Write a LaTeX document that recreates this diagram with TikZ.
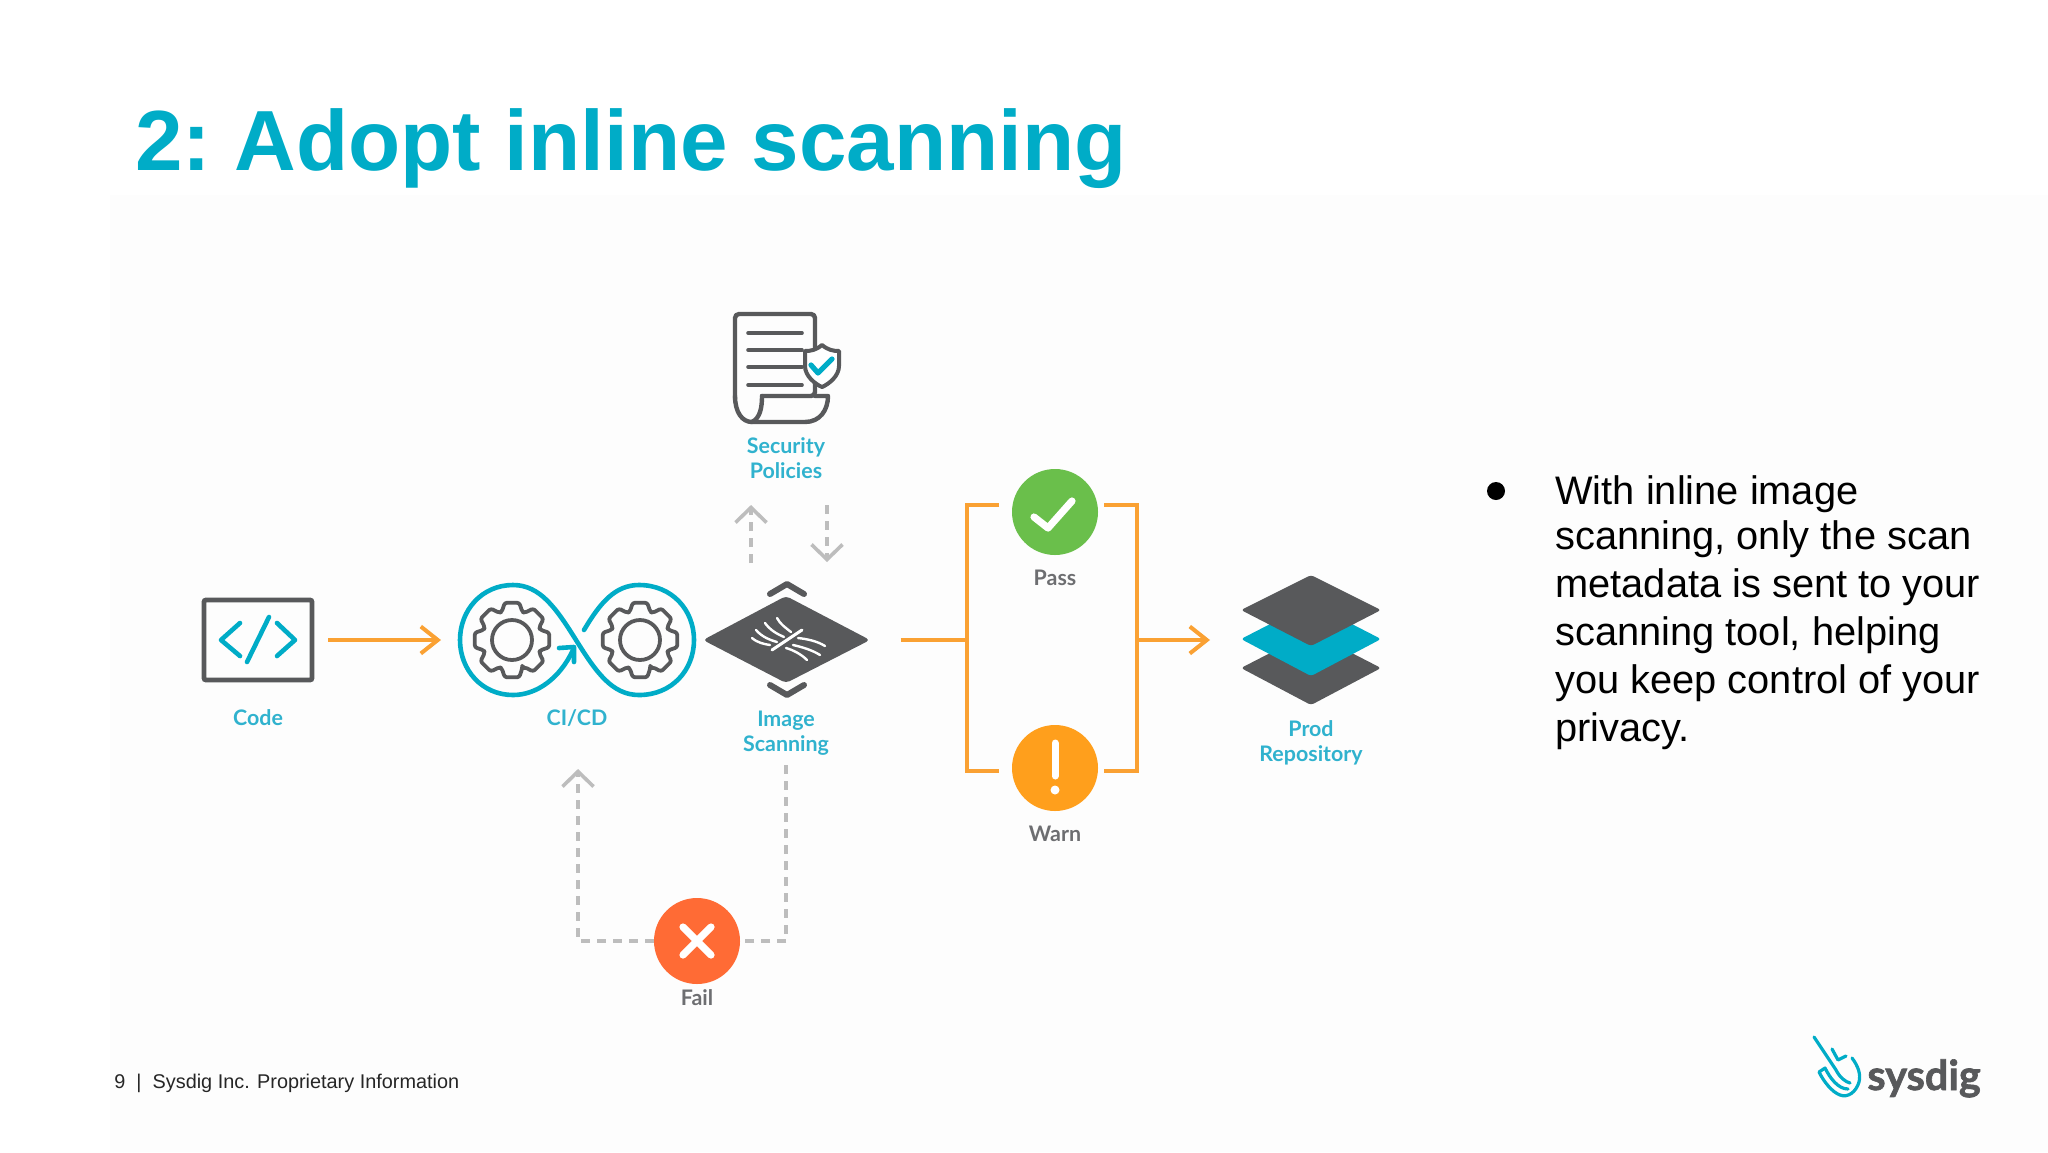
\documentclass[tikz,border=0pt]{standalone}
\usepackage{fontspec}
\setmainfont{Liberation Sans}
\newfontfamily\lato{Lato}
\newfontfamily\latoheavy[BoldFeatures={FakeBold=1.6}]{Lato}
\usetikzlibrary{arrows.meta,shapes.geometric,calc}
\definecolor{teal}{HTML}{00ACC7}
\definecolor{lblteal}{HTML}{30B2CE}
\definecolor{dark}{HTML}{58595B}
\definecolor{lblgray}{HTML}{6D6E71}
\definecolor{orng}{HTML}{FAA133}
\definecolor{dash}{HTML}{BDBDBD}
\definecolor{okgreen}{HTML}{6ABF4B}
\definecolor{warnorange}{HTML}{FF9F1C}
\definecolor{failred}{HTML}{FF6B35}
\definecolor{panel}{HTML}{FDFDFD}
\tikzset{
  x=0.5pt,y=-0.5pt,
  tlabel/.style={font=\lato\bfseries\fontsize{10.7}{12.5}\selectfont,text=lblteal,align=center,inner sep=0pt},
  glabel/.style={font=\lato\bfseries\fontsize{10.7}{12.5}\selectfont,text=lblgray,align=center,inner sep=0pt},
  flow/.style={draw=orng,line width=2pt},
  flowarrow/.style={flow,-{Straight Barb[length=8.5pt,width=13.5pt,line width=2pt]}},
  dashline/.style={draw=dash,line width=1.8pt,dash pattern=on 4.5pt off 3.5pt},
  dasharrow/.style={dashline,-{Straight Barb[length=7.5pt,width=15.5pt,line width=1.8pt]}},
  status/.style={circle,minimum size=43pt,inner sep=0pt},
  whitemark/.style={draw=white,line width=3.6pt,line cap=round,line join=round},
  icon/.style={draw=dark,line width=2.2pt,line join=round,line cap=round},
  tealicon/.style={draw=teal,line width=2.3pt,line cap=round,line join=round},
  anchorbox/.style={inner sep=0pt,outer sep=0pt},
}
\newcommand{\geariconat}[2]{%
  \begin{scope}[shift={(#1,#2)}]
    \draw[draw=dark,line width=1.9pt,line join=round,rounded corners=1.2pt]
      (70:30) \foreach \a in {90,135,...,405} { -- (\a-20:30) -- (\a-11:38) -- (\a+11:38) -- (\a+20:30) } -- cycle;
    \draw[draw=dark,line width=1.9pt] (0,0) circle[x radius=20,y radius=20];
  \end{scope}}
\begin{document}
\begin{tikzpicture}
\useasboundingbox (0,0) rectangle (2048,1152);
\fill[white] (0,0) rectangle (2048,1152);
\fill[panel] (110,195) rectangle (2048,1152);

% title
\node[anchor=base west,inner sep=0pt,text=teal,font=\bfseries\fontsize{42.7}{50}\selectfont] (title) at (135,170) {2:\kern-4.2pt{} Adopt inline scanning};

% Code
\node[draw=dark,line width=2.4pt,rounded corners=1pt,minimum width=54pt,minimum height=40pt,inner sep=0pt] (code) at (258,640) {};
\draw[tealicon] (240,623) -- (221,640) -- (240,656);
\draw[tealicon] (269,617) -- (247,662);
\draw[tealicon] (277,623) -- (295,640) -- (277,656);
\node[tlabel] (codel) at (258,718) {Code};

% CI/CD
\node[anchorbox,minimum width=118pt,minimum height=55pt] (cicd) at (577,640) {};
\geariconat{512}{640}
\geariconat{640}{640}
\draw[tealicon] (584,630) .. controls (600,603) and (615,585) .. (639,585)
  .. controls (672,585) and (694,610) .. (694,640)
  .. controls (694,670) and (672,695) .. (639,695)
  .. controls (612,695) and (596,672) .. (576,640)
  .. controls (556,608) and (540,585) .. (513,585)
  .. controls (482,585) and (460,610) .. (460,640)
  .. controls (460,670) and (482,695) .. (513,695)
  .. controls (537,695) and (560,678) .. (573,650);
\draw[tealicon] (559,648) -- (574,647) -- (574,662);
\node[tlabel] (cicdl) at (577,718) {CI/CD};

% Image scanning
\node[anchorbox,minimum width=81pt,minimum height=41.5pt] (scan) at (786.5,640) {};
\fill[dark,rounded corners=2pt] (703,640) -- (786,596) -- (870,640) -- (786,683) -- cycle;
\draw[icon,line width=3pt] (770,594) -- (787,584) -- (804,594);
\draw[icon,line width=3pt] (770,685) -- (787,695) -- (804,685);
\draw[white,line width=1.5pt,line cap=round] (802,630) -- (772,650);
\begin{scope}[white,line width=1.2pt,line cap=round]
  \draw (752,638) .. controls (758,643) and (764,644) .. (770,645);
  \draw (756,630) .. controls (762,637) and (770,640) .. (777,642);
  \draw (765,623) .. controls (770,630) and (777,634) .. (784,637);
  \draw (777,618) .. controls (780,624) and (786,628) .. (791,632);
  \draw (798,638) .. controls (807,639) and (817,641) .. (825,646);
  \draw (793,645) .. controls (802,647) and (812,650) .. (820,655);
  \draw (786,648) .. controls (793,650) and (801,654) .. (807,660);
\end{scope}
\node[tlabel] (scanl) at (786,733) {Image\\Scanning};

% Security policies
\node[anchorbox,minimum width=47pt,minimum height=54pt] (policy) at (786,368) {};
\draw[icon,rounded corners=2pt] (762,396) -- (815,396) -- (815,314) -- (735,314) -- (735,398);
\draw[icon] (735,396)
   .. controls (735,412) and (742,422) .. (752,422) -- (805,422)
   .. controls (820,422) and (828,410) .. (828,396) -- (815,396);
\draw[icon] (752,422) .. controls (760,418) and (762,408) .. (762,396);
\foreach \yy in {333,350,367,385} \draw[icon,line width=1.8pt] (748,\yy) -- (802,\yy);
\draw[icon,fill=white,line width=2pt] (822,345) .. controls (816,350) and (811,351) .. (805,351) -- (805,366)
   .. controls (805,376) and (815,384) .. (822,387) .. controls (829,384) and (839,376) .. (839,366)
   -- (839,351) .. controls (833,351) and (828,350) .. (822,345) -- cycle;
\draw[tealicon,line width=2.6pt] (811,365) -- (818,373) -- (832,359);
\node[tlabel] (policyl) at (786,458) {Security\\Policies};
\coordinate (upstart) at (751,563);
\coordinate (upend) at (751,505);
\coordinate (downstart) at (827,505);
\coordinate (downend) at (827,562);
\draw[dasharrow] (upstart) -- (upend);
\draw[dasharrow] (downstart) -- (downend);

% Pass / Warn
\node[status,fill=okgreen] (pass) at (1055,512) {};
\draw[whitemark] (1034,517) -- (1048,528) -- (1072,501);
\node[glabel] (passl) at (1055,578) {Pass};
\node[status,fill=warnorange] (warn) at (1055,768) {};
\draw[white,line width=3.5pt,line cap=round] (1055,743) -- (1055,776);
\fill[white] (1055,790) circle[radius=4.5];
\node[glabel] (warnl) at (1055,834) {Warn};
\coordinate (jl) at (967,640);
\coordinate (jr) at (1137,640);
\coordinate (pl) at (999,505);
\coordinate (pr) at (1104,505);
\coordinate (wl) at (999,771);
\coordinate (wr) at (1104,771);
\draw[flow] (scan.east) ++(33,0) -- (jl);
\draw[flow] (pl) -- (pl -| jl) -- (wl -| jl) -- (wl);
\draw[flow] (pr) -- (pr -| jr) -- (wr -| jr) -- (wr);

% Prod repository
\node[anchorbox,minimum width=68pt,minimum height=64pt] (prod) at (1311,640) {};
\fill[dark,rounded corners=1.5pt] (1241,668) -- (1311,632) -- (1381,668) -- (1311,705) -- cycle;
\fill[teal,rounded corners=1.5pt] (1241,639) -- (1311,603) -- (1381,639) -- (1311,676) -- cycle;
\fill[dark,rounded corners=1.5pt] (1241,610) -- (1311,575) -- (1381,610) -- (1311,646) -- cycle;
\node[tlabel] (prodl) at (1311,743) {Prod\\Repository};
\draw[flowarrow] (jr) -- ($(prod.west)+(-33,0)$);

% main flow arrow
\draw[flowarrow,shorten <=7pt,shorten >=9pt] (code.east) -- (cicd.west);

% Fail
\node[status,fill=failred] (fail) at (697,941) {};
\draw[whitemark] (683,927) -- (711,955);
\draw[whitemark] (711,927) -- (683,955);
\node[glabel] (faill) at (697,998) {Fail};
\coordinate (failstart) at (786,765);
\coordinate (failend) at (578,769);
\draw[dashline] (failstart) -- (fail.center -| failstart) -- (fail.east);
\draw[dasharrow] (fail.west) -- (fail.center -| failend) -- (failend);

% bullet text
\fill[black] (1496,491) circle[radius=9];
\node[anchor=north west,inner sep=0pt,align=left,font=\fontsize{19.9}{24}\selectfont] (body) at (1555,475)
  {With inline image\\[-1.5pt]scanning, only the scan\\metadata is sent to your\\scanning tool, helping\\you keep control of your\\privacy.};

% footer
\node[anchor=base west,inner sep=0pt,font=\fontsize{9.93}{12}\selectfont,text=black!85] (foot) at (114,1088) {9\ \ |\ \ Sysdig Inc. Proprietary Information};

% logo
\begin{scope}[draw=teal,line width=1.6pt,line cap=round,line join=round]
  \draw (1814,1037) -- (1836,1070) .. controls (1840,1078) and (1846,1082) .. (1850,1083);
  \draw (1832,1049) -- (1838,1060) -- (1846,1056);
  \draw (1852,1058) .. controls (1858,1066) and (1861,1074) .. (1859,1082)
     .. controls (1856,1092) and (1848,1098) .. (1840,1095)
     .. controls (1832,1092) and (1824,1082) .. (1819,1072) -- (1825,1068)
     .. controls (1830,1078) and (1838,1089) .. (1848,1089);
\end{scope}
\node[anchor=base west,inner sep=0pt,font=\latoheavy\bfseries\fontsize{20.7}{24}\selectfont,text=dark] (sysdig) at (1867,1090) {sysdig};
\end{tikzpicture}
\end{document}
